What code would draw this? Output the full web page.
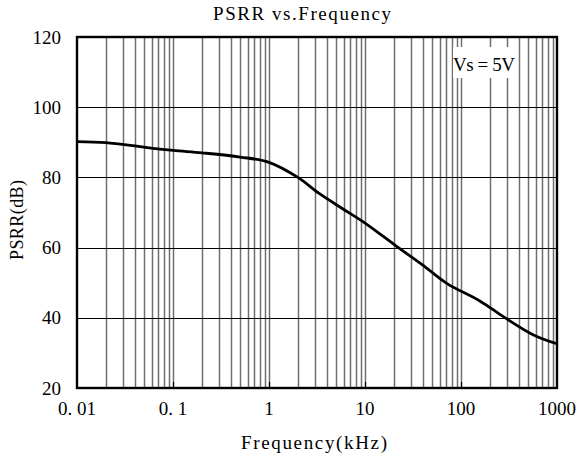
<!DOCTYPE html>
<html>
<head>
<meta charset="utf-8">
<script src="https://cdn.jsdelivr.net/npm/d3@7"></script>
<style>
  html, body { margin: 0; padding: 0; background: #fff; }
  svg { display: block; }
  text { font-family: "Liberation Serif", "Times New Roman", "DejaVu Serif", serif; fill: #000; }
</style>
</head>
<body>
<div id="chart"></div>
<script>
// PSRR vs. frequency
const freqs = [0.01, 0.02, 0.05, 0.1, 0.2, 0.5, 1, 2, 3.3, 5.9, 10, 21.5, 40, 71, 157, 274, 562, 1000];
const psrr = [90.2, 89.9, 88.6, 87.7, 87.0, 85.8, 84.3, 80.0, 75.5, 71.0, 67.0, 60.3, 55.0, 49.8, 44.8, 40.4, 35.2, 32.6];

const xTicks = [0.01, 0.1, 1, 10, 100, 1000];
const xTickLabels = ["0. 01", "0. 1", "1", "10", "100", "1000"];
const yTicks = [20, 40, 60, 80, 100, 120];

const title = "PSRR vs.Frequency";
const xTitle = "Frequency(kHz)";
const yTitle = "PSRR(dB)";
const note = "Vs = 5V";

const width = 579;
const height = 459;
const margin = { top: 37, right: 22, bottom: 71, left: 77 };

const x = d3
  .scaleLog()
  .domain([0.01, 1000])
  .range([margin.left, width - margin.right]);

const y = d3
  .scaleLinear()
  .domain([20, 120])
  .range([height - margin.bottom, margin.top]);

const svg = d3
  .select("#chart")
  .append("svg")
  .attr("width", width)
  .attr("height", height);

// minor log grid: 2..9 inside every decade
const minor = [];
for (let e = -2; e < 3; e++) {
  for (let m = 2; m <= 9; m++) minor.push(m * Math.pow(10, e));
}

svg
  .append("g")
  .selectAll("line")
  .data(minor.concat(xTicks.slice(1, -1)))
  .join("line")
  .attr("x1", (d) => Math.round(x(d)) + 0.5)
  .attr("x2", (d) => Math.round(x(d)) + 0.5)
  .attr("y1", y(120))
  .attr("y2", y(20))
  .attr("stroke", "#6f6f6f")
  .attr("stroke-width", 1.5);

// horizontal grid
svg
  .append("g")
  .selectAll("line")
  .data(yTicks.slice(1, -1))
  .join("line")
  .attr("x1", x(0.01))
  .attr("x2", x(1000))
  .attr("y1", (d) => Math.round(y(d)) + 0.5)
  .attr("y2", (d) => Math.round(y(d)) + 0.5)
  .attr("stroke", "#000")
  .attr("stroke-width", 1);

// small inward ticks at decades on the bottom edge
svg
  .append("g")
  .selectAll("line")
  .data(xTicks.slice(1, -1))
  .join("line")
  .attr("x1", (d) => Math.round(x(d)) + 0.5)
  .attr("x2", (d) => Math.round(x(d)) + 0.5)
  .attr("y1", y(20))
  .attr("y2", y(20) - 6)
  .attr("stroke", "#000")
  .attr("stroke-width", 1.2);

// note box (white fill hides the grid behind it)
svg
  .append("rect")
  .attr("x", 453)
  .attr("y", 47)
  .attr("width", 64)
  .attr("height", 31)
  .attr("fill", "#fff");

svg
  .append("text")
  .attr("x", 453)
  .attr("y", 71)
  .attr("font-size", 19)
  .attr("textLength", 62)
  .attr("lengthAdjust", "spacing")
  .text(note);

// curve
const line = d3
  .line()
  .x((d) => x(d[0]))
  .y((d) => y(d[1]))
  .curve(d3.curveCatmullRom.alpha(0.5));

svg
  .append("path")
  .datum(freqs.map((f, i) => [f, psrr[i]]))
  .attr("d", line)
  .attr("fill", "none")
  .attr("stroke", "#000")
  .attr("stroke-width", 2.8)
  .attr("stroke-linejoin", "round");

// plot frame
svg
  .append("rect")
  .attr("x", x(0.01))
  .attr("y", y(120))
  .attr("width", x(1000) - x(0.01))
  .attr("height", y(20) - y(120))
  .attr("fill", "none")
  .attr("stroke", "#000")
  .attr("stroke-width", 2.4);

// y tick labels
svg
  .append("g")
  .selectAll("text")
  .data(yTicks)
  .join("text")
  .attr("x", 61)
  .attr("y", (d) => y(d) + 6.5)
  .attr("text-anchor", "end")
  .attr("font-size", 19)
  .text((d) => d);

// x tick labels
svg
  .append("g")
  .selectAll("text")
  .data(xTicks)
  .join("text")
  .attr("x", (d) => x(d))
  .attr("y", 415)
  .attr("text-anchor", "middle")
  .attr("font-size", 19)
  .text((d, i) => xTickLabels[i]);

// titles
svg
  .append("text")
  .attr("x", 302)
  .attr("y", 20)
  .attr("text-anchor", "middle")
  .attr("font-size", 19)
  .attr("textLength", 178)
  .attr("lengthAdjust", "spacing")
  .text(title);

svg
  .append("text")
  .attr("x", 314)
  .attr("y", 449)
  .attr("text-anchor", "middle")
  .attr("font-size", 19)
  .attr("textLength", 146)
  .attr("lengthAdjust", "spacing")
  .text(xTitle);

svg
  .append("text")
  .attr("transform", "translate(23,220) rotate(-90)")
  .attr("text-anchor", "middle")
  .attr("font-size", 18)
  .attr("textLength", 80)
  .attr("lengthAdjust", "spacing")
  .text(yTitle);
</script>
</body>
</html>
